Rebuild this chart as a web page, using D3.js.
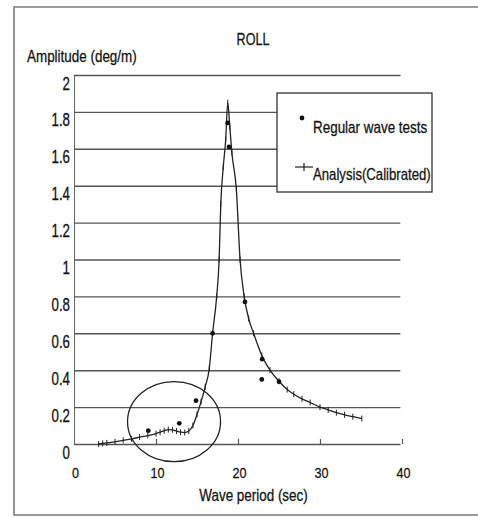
<!doctype html>
<html lang="en">
<head>
<meta charset="utf-8">
<title>ROLL</title>
<script src="https://d3js.org/d3.v7.min.js"></script>
<style>
  body { margin: 0; background: #fff; }
  svg text { font-family: "Liberation Sans", Arial, sans-serif; font-size: 14px; fill: #151515; stroke: #151515; stroke-width: 0.25px; }
</style>
</head>
<body>
<div id="chart"></div>
<script>
// analysis (calibrated) curve
var periods = [3.0, 3.5, 4.0, 5.0, 6.0, 7.0, 8.0, 9.0, 10.0, 10.5, 11.0, 11.5, 12.0, 12.5, 13.0, 13.5, 14.0, 14.5, 15.0, 15.5, 16.0, 16.5,
               16.9, 17.4, 17.7, 17.9, 18.2, 18.5, 18.75, 19.0, 19.25, 19.8, 20.25, 20.75, 21.3, 21.9, 22.9, 23.9, 25.0, 26.0,
               26.8, 27.8, 28.8, 30.0, 31.0, 32.0, 33.0, 34.0, 35.1];
var amps = [0.0, 0.003, 0.006, 0.012, 0.02, 0.028, 0.037, 0.046, 0.056, 0.064, 0.072, 0.078, 0.077, 0.07, 0.064, 0.062, 0.07, 0.1, 0.16, 0.23, 0.31, 0.41,
            0.6, 0.8, 1.0, 1.3, 1.5, 1.65, 1.85, 1.72, 1.58, 1.38, 1.0, 0.8, 0.68, 0.6, 0.48, 0.4, 0.34, 0.295,
            0.27, 0.245, 0.225, 0.2, 0.185, 0.17, 0.158, 0.148, 0.138];

// regular wave tests
var testPeriods = [9.06, 12.84, 14.88, 16.9, 18.74, 18.9, 20.85, 22.95, 22.9, 25.0];
var testAmps = [0.072, 0.112, 0.235, 0.6, 1.74, 1.61, 0.77, 0.46, 0.35, 0.338];

var xTicks = [0, 10, 20, 30, 40];
var yTicks = [0, 0.2, 0.4, 0.6, 0.8, 1, 1.2, 1.4, 1.6, 1.8, 2];
var yTickLabels = ["0", "0.2", "0.4", "0.6", "0.8", "1", "1.2", "1.4", "1.6", "1.8", "2"];

// circled region (centre and half sizes in data units)
var circled = {p: 12.2, a: 0.121, rp: 5.67, ra: 0.217};

var W = 478, H = 517;
var x = d3.scaleLinear().domain([0, 40]).range([74, 402]);
var y = d3.scaleLinear().domain([0, 2]).range([444, 75]);

var svg = d3.select("#chart").append("svg")
  .attr("width", W).attr("height", H);

svg.append("rect").attr("width", W).attr("height", H).attr("fill", "#fff");

// scan frame
svg.append("path")
  .attr("d", "M478,7 H14 V515 H478")
  .attr("fill", "none").attr("stroke", "#7a7a7a").attr("stroke-width", 1.6);

function place(sel, px, py, sx, sy) {
  sel.attr("transform", "translate(" + px + "," + py + ") scale(" + sx + "," + sy + ")");
}

// grid + y labels
var gy = svg.append("g").attr("transform", "translate(" + x(0) + ",0)")
  .call(d3.axisLeft(y).tickValues(yTicks).tickSize(-(x(39.8) - x(0)))
        .tickFormat(function (d, i) { return yTickLabels[i]; }));
gy.select(".domain").attr("stroke", "#666").attr("stroke-width", 1);
gy.selectAll(".tick line").attr("stroke", "#555").attr("stroke-width", 1.4);
gy.selectAll(".tick text")
  .attr("x", null).attr("dy", null).attr("fill", "#151515")
  .attr("text-anchor", "end").style("font-size", "14px").style("font-family", null)
  .each(function () { place(d3.select(this), -4, 14, 0.95, 1.3); });

// x axis
var gx = svg.append("g").attr("transform", "translate(0," + y(0) + ")")
  .call(d3.axisBottom(x).tickValues(xTicks).tickSize(-5).tickFormat(d3.format("d")));
gx.select(".domain").remove();
gx.selectAll(".tick line").attr("stroke", "#555").attr("stroke-width", 1.2)
  .filter(function (d) { return d === 0; }).remove();
gx.selectAll(".tick text")
  .attr("y", null).attr("dy", null).attr("fill", "#151515")
  .style("font-size", "14px").style("font-family", null)
  .each(function () { place(d3.select(this), 1, 34, 0.9, 1.05); });

// titles
place(svg.append("text").attr("text-anchor", "middle").text("ROLL"), 253, 45, 0.9, 1.2);
place(svg.append("text").text("Amplitude (deg/m)"), 27, 62, 0.96, 1.2);
place(svg.append("text").attr("text-anchor", "middle").text("Wave period (sec)"), 253.5, 501, 0.96, 1.2);

// analysis curve
var pts = periods.map(function (p, i) { return [p, amps[i]]; });
var line = d3.line().x(function (d) { return x(d[0]); }).y(function (d) { return y(d[1]); })
  .curve(d3.curveMonotoneX);
svg.append("path").datum(pts)
  .attr("d", line).attr("fill", "none").attr("stroke", "#222").attr("stroke-width", 1.3);
svg.append("g").selectAll("line").data(pts).join("line")
  .attr("x1", function (d) { return x(d[0]); }).attr("x2", function (d) { return x(d[0]); })
  .attr("y1", function (d) { return y(d[1]) - 3; }).attr("y2", function (d) { return y(d[1]) + 3; })
  .attr("stroke", "#222").attr("stroke-width", 1);

// test points
svg.append("g").selectAll("circle").data(testPeriods).join("circle")
  .attr("cx", function (d) { return x(d); })
  .attr("cy", function (d, i) { return y(testAmps[i]); })
  .attr("r", 2.4).attr("fill", "#111");

// circle around low-period region
svg.append("ellipse")
  .attr("cx", x(circled.p)).attr("cy", y(circled.a))
  .attr("rx", x(circled.rp) - x(0)).attr("ry", y(0) - y(circled.ra))
  .attr("fill", "none").attr("stroke", "#222").attr("stroke-width", 1.3);

// legend
var lg = svg.append("g");
lg.append("rect").attr("x", 277).attr("y", 93).attr("width", 155).attr("height", 99)
  .attr("fill", "#fff").attr("stroke", "#333").attr("stroke-width", 1.3);
lg.append("circle").attr("cx", 302).attr("cy", 118).attr("r", 2.4).attr("fill", "#111");
place(lg.append("text").text("Regular wave tests"), 313, 133, 0.96, 1.2);
lg.append("line").attr("x1", 295).attr("x2", 313).attr("y1", 167).attr("y2", 167)
  .attr("stroke", "#222").attr("stroke-width", 1.2);
lg.append("line").attr("x1", 304).attr("x2", 304).attr("y1", 163).attr("y2", 171)
  .attr("stroke", "#222").attr("stroke-width", 1.2);
place(lg.append("text").text("Analysis(Calibrated)"), 313, 180, 0.94, 1.2);
</script>
</body>
</html>
